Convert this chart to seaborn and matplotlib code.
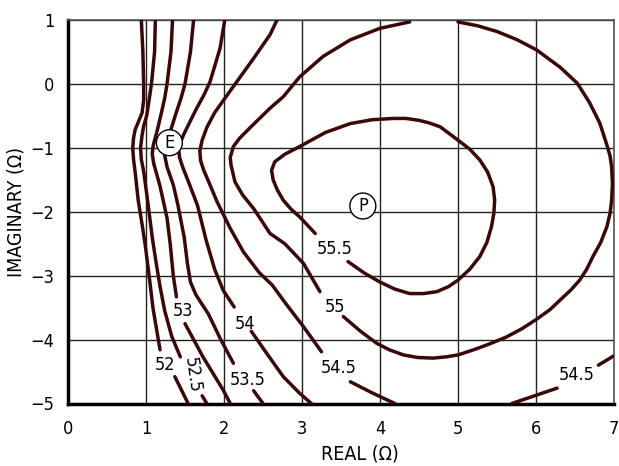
import numpy as np
import pandas as pd
import matplotlib
matplotlib.use("Agg")
import matplotlib.pyplot as plt
import seaborn as sns

# ---- contour traces (None = gap for a label) ----
C52_X = [0.94, 0.96, 0.97, 0.97, 0.95, 0.90, 0.86, 0.84, 0.83, 0.84, 0.86, 0.90, 0.95, 0.99, 1.04, 1.09, 1.18, None, 1.37, 1.54]
C52_Y = [1.0, 0.5, 0.0, -0.25, -0.45, -0.6, -0.72, -0.85, -1.0, -1.18, -1.37, -1.82, -2.2, -2.52, -3.0, -3.51, -4.16, None, -4.58, -5.0]

C525_X = [1.12, 1.11, 1.07, 1.04, 1.01, 0.97, 0.95, 0.93, 0.94, 0.97, 1.02, 1.08, 1.13, 1.18, 1.24, 1.33, 1.44, None, 1.72, 1.78]
C525_Y = [1.0, 0.5, 0.0, -0.25, -0.49, -0.66, -0.8, -1.0, -1.18, -1.37, -1.82, -2.4, -2.8, -3.17, -3.55, -3.95, -4.27, None, -4.88, -5.0]

C53_X = [1.34, 1.32, 1.27, 1.24, 1.20, 1.14, 1.11, 1.09, 1.08, 1.10, 1.18, 1.27, 1.31, 1.35, 1.39, None, 1.50, 1.73, 1.99, 2.08]
C53_Y = [1.0, 0.5, 0.0, -0.22, -0.44, -0.75, -0.88, -0.98, -1.1, -1.25, -1.6, -2.1, -2.5, -3.0, -3.33, None, -3.75, -4.27, -4.79, -5.0]

C535_X = [1.61, 1.57, 1.50, 1.45, 1.39, 1.31, 1.27, 1.25, 1.24, 1.27, 1.35, 1.41, 1.49, 1.53, 1.57, 1.64, 1.80, 1.95, 2.12, None, 2.38, 2.50]
C535_Y = [1.0, 0.5, 0.0, -0.22, -0.44, -0.75, -0.88, -1.0, -1.12, -1.3, -1.58, -1.9, -2.4, -2.8, -3.1, -3.3, -3.6, -3.98, -4.37, None, -4.80, -5.0]

C54_X = [2.01, 1.95, 1.82, 1.74, 1.65, 1.56, 1.48, 1.44, 1.42, 1.43, 1.47, 1.56, 1.66, 1.77, 1.88, 1.99, 2.13, None, 2.35, 2.55, 2.76, 2.97, 3.12]
C54_Y = [1.0, 0.56, 0.03, -0.18, -0.38, -0.60, -0.80, -0.92, -1.03, -1.15, -1.3, -1.58, -1.9, -2.44, -2.9, -3.23, -3.49, None, -3.87, -4.22, -4.58, -4.84, -5.0]

C545_X = [2.68, 2.59, 2.38, 2.12, 1.88, 1.78, 1.72, 1.69, 1.70, 1.74, 1.80, 1.91, 2.08, 2.25, 2.45, 2.62, 2.80, 3.02, 3.25, None,
          3.62, 3.91, 4.19, None, 5.69, 6.27, None, 6.80, 6.99]
C545_Y = [1.0, 0.77, 0.40, -0.04, -0.45, -0.68, -0.88, -1.05, -1.2, -1.35, -1.52, -1.84, -2.26, -2.63, -2.95, -3.15, -3.45, -3.80, -4.19, None,
          -4.66, -4.84, -5.0, None, -5.0, -4.76, None, -4.40, -4.26]

C55_X = [4.38, 4.0, 3.62, 3.27, 2.97, 2.76, 2.59, 2.33, 2.20, 2.12, 2.08, 2.09, 2.14, 2.24, 2.38, 2.59, 2.78, 3.02, 3.23, None,
         3.53, 3.75, 3.96, 4.12, 4.30, 4.48, 4.68, 4.85, 5.0, 5.20, 5.40, 5.62, 5.82, 6.01, 6.18, 6.31, 6.45, 6.56, 6.65, 6.73,
         6.83, 6.91, 6.95, 6.97, 6.98, 6.97, 6.95, 6.91, 6.82, 6.69, 6.53, 6.31, 6.01, 5.76, 5.5, 5.25, 5.0]
C55_Y = [0.97, 0.87, 0.69, 0.43, 0.11, -0.20, -0.38, -0.69, -0.85, -0.98, -1.15, -1.27, -1.53, -1.74, -1.95, -2.34, -2.5, -2.81, -3.25, None,
         -3.64, -3.87, -4.06, -4.16, -4.24, -4.28, -4.29, -4.27, -4.24, -4.16, -4.07, -3.96, -3.83, -3.68, -3.53, -3.38, -3.22, -3.07, -2.90, -2.70,
         -2.48, -2.23, -2.02, -1.82, -1.56, -1.30, -1.13, -0.96, -0.62, -0.30, 0.01, 0.26, 0.53, 0.69, 0.82, 0.91, 0.97]

C555_X = [3.59, 3.80, 4.0, 4.19, 4.38, 4.56, 4.73, 4.88, 5.0, 5.15, 5.28, 5.37, 5.43, 5.46, 5.47, 5.45, 5.38, 5.28, 5.15, 5.0,
          4.88, 4.77, 4.63, 4.50, 4.33, 4.17, 3.90, 3.62, 3.30, 2.97, 2.78, 2.65, 2.61, 2.63, 2.68, 2.76, 2.86, 2.97, 3.17]
C555_Y = [-2.78, -2.96, -3.10, -3.21, -3.28, -3.28, -3.25, -3.17, -3.07, -2.90, -2.70, -2.48, -2.23, -2.02, -1.82, -1.61, -1.38, -1.19, -1.02, -0.88,
          -0.77, -0.67, -0.61, -0.57, -0.54, -0.54, -0.56, -0.62, -0.76, -0.98, -1.10, -1.22, -1.35, -1.50, -1.65, -1.82, -1.96, -2.08, -2.34]

# contour labels
LABEL_TEXT = ["52", "52.5", "53", "53.5", "54", "54.5", "55", "55.5", "54.5"]
LABEL_X = [1.24, 1.59, 1.47, 2.31, 2.27, 3.47, 3.42, 3.42, 6.52]
LABEL_Y = [-4.40, -4.56, -3.55, -4.63, -3.75, -4.45, -3.49, -2.59, -4.56]
LABEL_ROT = [0, -82, 0, 0, 0, 0, 0, 0, 0]

# marked impedance points
POINT_TEXT = ["E", "P"]
POINT_X = [1.30, 3.78]
POINT_Y = [-0.92, -1.91]

X_TICKS = [0, 1, 2, 3, 4, 5, 6, 7]
Y_TICKS = [1, 0, -1, -2, -3, -4, -5]

# ---- build long table of segments ----
rows = []
seg = 0
for xs, ys in [(C52_X, C52_Y), (C525_X, C525_Y), (C53_X, C53_Y), (C535_X, C535_Y),
               (C54_X, C54_Y), (C545_X, C545_Y), (C55_X, C55_Y), (C555_X, C555_Y)]:
    for x, y in zip(xs, ys):
        if x is None:
            seg += 1
            continue
        rows.append({"x": x, "y": y, "seg": seg})
    seg += 1
df = pd.DataFrame(rows)

sns.set_style("white")
plt.rcParams["font.family"] = ["DejaVu Sans"]
plt.rcParams["font.stretch"] = "condensed"
plt.rcParams["text.color"] = "black"
plt.rcParams["axes.labelcolor"] = "black"

fig = plt.figure(figsize=(6.19, 4.66), dpi=100)
ax = fig.add_axes([68 / 619, (466 - 403.5) / 466, 546 / 619, 383.5 / 466])

LINE_COLOR = "#3a0808"
sns.lineplot(data=df, x="x", y="y", units="seg", estimator=None, sort=False,
             color=LINE_COLOR, linewidth=2.5, ax=ax, zorder=3)

for t, x, y, r in zip(LABEL_TEXT, LABEL_X, LABEL_Y, LABEL_ROT):
    ax.text(x, y, t, ha="center", va="center", rotation=r, fontsize=13,
            color="black", zorder=4)

for t, x, y in zip(POINT_TEXT, POINT_X, POINT_Y):
    ax.text(x, y, t, ha="center", va="center", fontsize=13, color="black", zorder=5,
            bbox=dict(boxstyle="circle,pad=0.22", fc="white", ec="black", lw=1.0))

ax.set_xlim(0, 7)
ax.set_ylim(-5, 1)
ax.set_xticks(X_TICKS)
ax.set_yticks(Y_TICKS)
ax.set_xticklabels([str(v) for v in X_TICKS])
ax.set_yticklabels([str(v).replace("-", "\u2212") for v in Y_TICKS])
ax.grid(True, color="#222222", linewidth=1.0)
ax.set_axisbelow(True)
ax.tick_params(axis="both", length=0, labelsize=13, colors="black")
ax.tick_params(axis="x", pad=12)
ax.tick_params(axis="y", pad=10)

for s in ["left", "bottom"]:
    ax.spines[s].set_color("black")
    ax.spines[s].set_linewidth(2.5)
for s in ["top", "right"]:
    ax.spines[s].set_color("#555555")
    ax.spines[s].set_linewidth(1.2)

ax.set_xlabel("REAL (\u03a9)", fontsize=14, color="black")
ax.set_ylabel("IMAGINARY (\u03a9)", fontsize=14, color="black")
ax.xaxis.set_label_coords(292 / 546, -(445 - 403.5) / 383.5)
ax.yaxis.set_label_coords(-(68 - 16) / 546, 0.5)
ax.xaxis.label.set_va("top")
ax.yaxis.label.set_va("center")

fig.savefig("out.png", dpi=100)
